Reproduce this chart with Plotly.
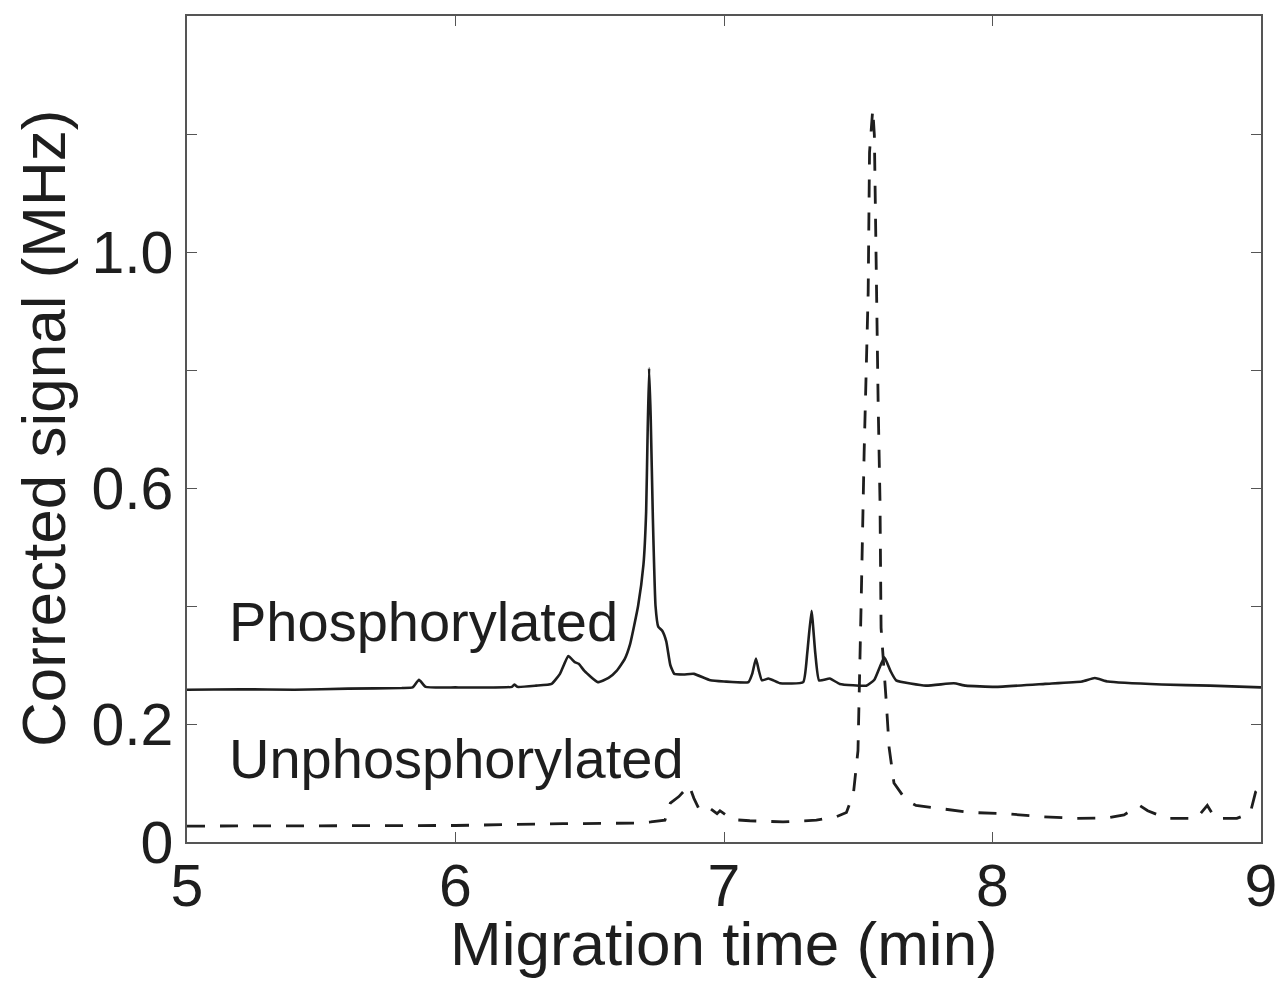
import plotly.graph_objects as go

# Phosphorylated trace (solid)
phos_time = [5.00, 5.20, 5.40, 5.60, 5.80, 5.84, 5.864, 5.889, 6.00, 6.21, 6.219, 6.23,
             6.30, 6.358, 6.389, 6.42, 6.444, 6.459, 6.48, 6.53, 6.57, 6.60, 6.63, 6.65,
             6.68, 6.70, 6.71, 6.715, 6.721, 6.727, 6.735, 6.745, 6.755, 6.77, 6.785, 6.80,
             6.815, 6.85, 6.888, 6.949, 7.00, 7.091, 7.105, 7.119, 7.13, 7.141, 7.165, 7.184,
             7.209, 7.295, 7.31, 7.326, 7.34, 7.354, 7.394, 7.431, 7.53, 7.56, 7.597, 7.62,
             7.641, 7.752, 7.856, 7.90, 8.01, 8.196, 8.333, 8.381, 8.43, 8.63, 8.81, 9.00]
phos_signal = [0.258, 0.259, 0.258, 0.260, 0.261, 0.262, 0.275, 0.263, 0.262, 0.263, 0.267, 0.263,
               0.265, 0.268, 0.285, 0.315, 0.305, 0.302, 0.290, 0.271, 0.278, 0.290, 0.310, 0.335,
               0.400, 0.470, 0.560, 0.680, 0.803, 0.720, 0.550, 0.400, 0.365, 0.358, 0.340, 0.300,
               0.285, 0.284, 0.285, 0.274, 0.272, 0.271, 0.285, 0.311, 0.290, 0.274, 0.277, 0.274,
               0.269, 0.271, 0.320, 0.392, 0.320, 0.274, 0.277, 0.268, 0.265, 0.275, 0.313, 0.290,
               0.274, 0.265, 0.269, 0.265, 0.263, 0.268, 0.272, 0.278, 0.272, 0.267, 0.265, 0.262]

# Unphosphorylated trace (dashed)
unphos_time = [5.00, 5.50, 6.00, 6.40, 6.666, 6.727, 6.78, 6.80, 6.832, 6.87, 6.888, 6.906,
               6.92, 6.948, 6.974, 6.985, 7.03, 7.096, 7.22, 7.344, 7.419, 7.456, 7.482, 7.499,
               7.505, 7.511, 7.522, 7.537, 7.542, 7.554, 7.560, 7.567, 7.574, 7.581, 7.585,
               7.604, 7.615, 7.633, 7.678, 7.715, 7.81, 7.92, 8.05, 8.18, 8.31, 8.43, 8.49,
               8.548, 8.578, 8.65, 8.76, 8.80, 8.83, 8.91, 8.96, 8.98, 9.00]
unphos_signal = [0.027, 0.027, 0.028, 0.031, 0.032, 0.034, 0.037, 0.066, 0.077, 0.096, 0.074, 0.057,
                 0.062, 0.057, 0.048, 0.053, 0.038, 0.036, 0.034, 0.037, 0.043, 0.050, 0.082, 0.155,
                 0.268, 0.409, 0.662, 0.932, 1.169, 1.242, 1.198, 0.932, 0.747, 0.578, 0.363,
                 0.240, 0.160, 0.100, 0.071, 0.062, 0.057, 0.050, 0.048, 0.043, 0.040, 0.041, 0.046,
                 0.062, 0.053, 0.040, 0.040, 0.062, 0.040, 0.040, 0.049, 0.085, 0.096]

x_tick_vals = [5, 6, 7, 8, 9]
x_tick_text = ["5", "6", "7", "8", "9"]
y_tick_vals = [0, 0.2, 0.4, 0.6, 0.8, 1.0, 1.2]
y_tick_text = ["0", "0.2", "", "0.6", "", "1.0", ""]

FONT = "Liberation Sans, Arial, Helvetica, sans-serif"
INK = "#1e1e1e"

fig = go.Figure()
fig.add_trace(go.Scatter(x=phos_time, y=phos_signal, mode="lines",
                         line=dict(color=INK, width=2.6, shape="spline", smoothing=0.4),
                         name="Phosphorylated", showlegend=False))
fig.add_trace(go.Scatter(x=unphos_time, y=unphos_signal, mode="lines",
                         line=dict(color=INK, width=2.8, dash="18px,15px"),
                         name="Unphosphorylated", showlegend=False))

axis_common = dict(showline=True, linecolor="#555555", linewidth=1.5, mirror="ticks",
                   ticks="inside", ticklen=10, tickwidth=1.3, tickcolor="#555555",
                   showgrid=False, zeroline=False, ticklabeloverflow="allow",
                   tickfont=dict(family=FONT, size=59, color=INK))

fig.update_xaxes(range=[5, 9], tickvals=x_tick_vals, ticktext=x_tick_text,
                 ticklabelstandoff=-9, **axis_common)
fig.update_yaxes(range=[0, 1.4], tickvals=y_tick_vals, ticktext=y_tick_text, **axis_common)

fig.update_layout(
    width=1275, height=975,
    margin=dict(l=179, r=16, t=6, b=141),
    plot_bgcolor="white", paper_bgcolor="white",
    annotations=[
        dict(text="Phosphorylated", x=5.148, y=0.374, xref="x", yref="y",
             xanchor="left", yanchor="middle", showarrow=False,
             font=dict(family=FONT, size=56, color=INK)),
        dict(text="Unphosphorylated", x=5.148, y=0.142, xref="x", yref="y",
             xanchor="left", yanchor="middle", showarrow=False,
             font=dict(family=FONT, size=56, color=INK)),
        dict(text="Migration time (min)", x=0.5, y=0, xref="paper", yref="paper",
             xanchor="center", yanchor="middle", yshift=-101, showarrow=False,
             font=dict(family=FONT, size=62, color=INK)),
        dict(text="Corrected signal (MHz)", x=0, y=0.5, xref="paper", yref="paper",
             xanchor="center", yanchor="middle", xshift=-144, textangle=-90, showarrow=False,
             font=dict(family=FONT, size=62, color=INK)),
    ],
)

fig.write_html("out.html")
